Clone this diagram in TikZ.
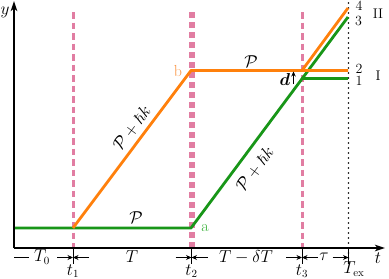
\documentclass[tikz,border=0pt]{standalone}
\usepackage{amsmath,amssymb,bm}
\usetikzlibrary{arrows.meta}
\definecolor{cOr}{RGB}{255,128,12}
\definecolor{cGr}{RGB}{24,150,24}
\definecolor{cPk}{RGB}{225,125,162}
\definecolor{cA}{RGB}{50,175,50}
\definecolor{cB}{RGB}{250,150,70}
\tikzset{
  axisline/.style={line width=2.6pt,-{Stealth[length=10pt,width=6.5pt,inset=2.5pt]}},
  pinkline/.style={cPk,line width=3pt,dash pattern=on 6.5pt off 4pt},
  pinkthick/.style={cPk,line width=6pt,dash pattern=on 6pt off 4pt},
  orline/.style={cOr,line width=2.8pt},
  grline/.style={cGr,line width=2.8pt},
  dimarrow/.style={line width=1.3pt,-{Stealth[length=5.5pt,width=5pt]}},
  dimline/.style={line width=1.3pt},
  tickline/.style={line width=0.9pt},
  lab/.style={inner sep=0pt},
  endlab/.style={inner sep=0pt,font=\fontsize{14}{16}\selectfont},
}
\begin{document}
\begin{tikzpicture}[x=1pt,y=-1pt,font=\fontsize{16}{19}\selectfont]
\useasboundingbox (0,0) rectangle (389,279);
% key coordinates
\coordinate (O) at (14,248);
\coordinate (Ytop) at (14,1);
\coordinate (Xend) at (385,248);
\coordinate (p1t) at (73,12);   \coordinate (p1b) at (73,248);
\coordinate (p2t) at (191.5,12);\coordinate (p2b) at (191.5,248);
\coordinate (p3t) at (302,12);  \coordinate (p3b) at (302,248);
\coordinate (xt) at (348.5,3);  \coordinate (xb) at (348.5,264);
% pink dashed lines
\draw[pinkline] (p1t) -- (p1b);
\draw[pinkthick] (p2t) -- (p2b);
\draw[pinkline] (p3t) -- (p3b);
% dotted Tex
\draw[line width=1.6pt,line cap=round,dash pattern=on 0pt off 5pt] (xt) -- (xb);
% green path
\coordinate (g0) at (14,228);
\coordinate (ga) at (191,228);
\coordinate (g3) at (348,17);
\coordinate (g1s) at (302,78.8);
\coordinate (g1) at (348,78.8);
\draw[grline,line join=round] (g0) -- (ga) -- (g3);
\draw[grline] (g1s) -- (g1);
% orange path
\coordinate (o0) at (73,228);
\coordinate (ob) at (191,70.5);
\coordinate (o2) at (348,70.5);
\coordinate (o4s) at (302,70.5);
\coordinate (o4) at (348,8);
\draw[orline,line join=round] (o0) -- (ob) -- (o2);
\draw[orline] (o4s) -- (o4);
% axes
\draw[axisline] (O) -- (Ytop);
\draw[axisline] (O) -- (Xend);
\node[lab] (ylab) at (5,12) {$y$};
\node[lab] (tlab) at (378,258) {$t$};
% ticks
\foreach \x in {73,191.5,302,348.5} {
  \draw[tickline] (\x,248) -- (\x,264);
}
% dimension arrows
\coordinate (d0a) at (14,257.5); \coordinate (d0b) at (29,257.5);
\draw[dimline] (d0a) -- (d0b);
\foreach \x in {73,191.5,302} {
  \draw[dimarrow] (\x-16,257.5) -- (\x,257.5);
  \draw[dimarrow] (\x+16,257.5) -- (\x,257.5);
}
\draw[dimarrow] (332.5,257.5) -- (348.5,257.5);
% dimension labels
\node[lab] (lT0) at (42,257) {$T_0$};
\node[lab] (lT) at (132,257) {$T$};
\node[lab] (lTd) at (246,257) {$T-\delta T$};
\node[lab] (ltau) at (324,257) {$\tau$};
\node[lab] (lt1) at (73,271) {$t_1$};
\node[lab] (lt2) at (191.5,271) {$t_2$};
\node[lab] (lt3) at (302,271) {$t_3$};
\node[lab] (lTex) at (354,269) {$T_{\mathrm{ex}}$};
% path labels
\node[lab] (Pg) at (136,218) {$\mathcal{P}$};
\node[lab] (Po) at (251,61.5) {$\mathcal{P}$};
\node[lab,rotate=53.2] (Pho) at (132,128) {$\mathcal{P}+\hbar k$};
\node[lab,rotate=53.2] (Phg) at (255,169) {$\mathcal{P}+\hbar k$};
\node[lab,text=cA] (la) at (205,228) {a};
\node[lab,text=cB] (lb) at (178,71) {b};
% d arrow
\node[lab] (ld) at (285,79) {$\bm{d}$};
\coordinate (da) at (293.5,84);
\coordinate (db) at (293.5,71.5);
\draw[line width=1.1pt,-{Stealth[length=5pt,width=4.5pt]}] (da) -- (db);
% end labels
\node[endlab] (n4) at (359,6) {4};
\node[endlab] (n3) at (358.5,20.5) {3};
\node[endlab] (n2) at (359,69) {2};
\node[endlab] (n1) at (359,80.5) {1};
\node[endlab] (nII) at (378,14) {II};
\node[endlab] (nI) at (378,75.5) {I};
\end{tikzpicture}
\end{document}
